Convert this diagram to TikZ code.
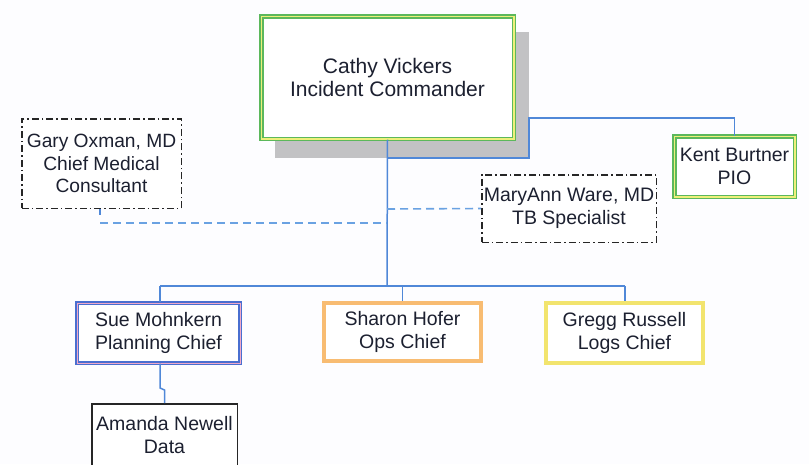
\documentclass[tikz,border=0pt]{standalone}
\usepackage{fontspec}
\setmainfont{Liberation Sans}
\definecolor{inkc}{HTML}{1C2030}
\definecolor{linkblue}{HTML}{5088D8}
\definecolor{dashblue}{HTML}{6AA2E2}
\definecolor{boxgreen}{HTML}{5CB85C}
\definecolor{boxyellow}{HTML}{EEF07A}
\definecolor{planblue}{HTML}{4A6FD0}
\definecolor{planpink}{HTML}{F0A8C8}
\definecolor{opsorange}{HTML}{F8BC72}
\definecolor{logsyellow}{HTML}{F2E46E}
\definecolor{shadowgray}{HTML}{C2C2C4}
\begin{document}
\begin{tikzpicture}[x=1pt,y=-1pt,
  every node/.style={inner sep=0pt, align=center, text=inkc,
    font=\fontsize{19.5}{23.3}\selectfont},
  role/.style={rectangle, fill=white},
  greenbox/.style={role, draw=boxgreen, line width=1.5pt, double=boxyellow, double distance=1.5pt},
  planbox/.style={role, draw=planblue, line width=1.4pt, double=planpink, double distance=1pt},
  opsbox/.style={role, draw=opsorange, line width=4pt},
  logsbox/.style={role, draw=logsyellow, line width=4pt},
  plainbox/.style={role, draw=black!85, line width=1.5pt},
  advisor/.style={role, draw=black!85, line width=1.5pt,
    dash pattern=on 7pt off 3pt on 1.5pt off 3pt},
  link/.style={draw=linkblue, line width=1.5pt},
  advlink/.style={draw=dashblue, line width=1.6pt, dash pattern=on 8pt off 5pt}]

\clip (0,0) rectangle (809,464);
\fill[white!98!blue!40!white] (0,0) rectangle (809,464);

% connector positions
\coordinate (busL) at (160,286);
\coordinate (busC) at (387,286);
\coordinate (busR) at (625,286);
\coordinate (pioA) at (529,158);
\coordinate (pioB) at (529,118);
\coordinate (advL) at (387,223);
\coordinate (advR) at (387,209);

% drop shadow of the commander box
\fill[shadowgray] (275,32) rectangle (529,158);

% boxes
\node[greenbox, minimum width=252.5pt, minimum height=122.5pt,
  font=\fontsize{21}{23.5}\selectfont] (cathy) at (387.5,77.5)
  {Cathy Vickers\\Incident Commander};
\node[greenbox, minimum width=120.5pt, minimum height=60.5pt] (kent) at (734.5,166.5)
  {Kent Burtner\\PIO};
\node[advisor, minimum width=159.5pt, minimum height=89.5pt,
  font=\fontsize{19.2}{22.5}\selectfont] (gary) at (101.5,163.5)
  {Gary Oxman, MD\\Chief Medical\\Consultant};
\node[advisor, minimum width=174.5pt, minimum height=67.5pt] (maryann) at (569,208.5)
  {MaryAnn Ware, MD\\TB Specialist};
\node[planbox, minimum width=163pt, minimum height=60pt] (sue) at (158.5,333)
  {Sue Mohnkern\\Planning Chief};
\node[opsbox, minimum width=157pt, minimum height=58pt] (sharon) at (402.5,332)
  {Sharon Hofer\\Ops Chief};
\node[logsbox, minimum width=157pt, minimum height=60pt] (gregg) at (624.5,333)
  {Gregg Russell\\Logs Chief};
\node[plainbox, minimum width=145.5pt, minimum height=62.5pt] (amanda) at (164.5,435)
  {Amanda Newell\\Data};

% reporting lines
\draw[link] (cathy.south) -- (busC);
\draw[link] (busL) -- (busR);
\draw[link] (busL) -- (busL |- sue.north);
\draw[link] (sharon.north) -- (sharon.north |- busC);
\draw[link] (busR) -- (busR |- gregg.north);
\draw[link] (cathy.south) |- (pioA) -- (pioB) -| (kent.north);
\draw[link] (busL |- sue.south) -- (160,388) -- (164.5,390) -- (amanda.north);

% advisory lines
\draw[link] (gary.south -| 100,0) -- (100,215);
\draw[advlink] (100,223) -- (advL);
\draw[advlink] (advR) -- (maryann.west);
\end{tikzpicture}
\end{document}
